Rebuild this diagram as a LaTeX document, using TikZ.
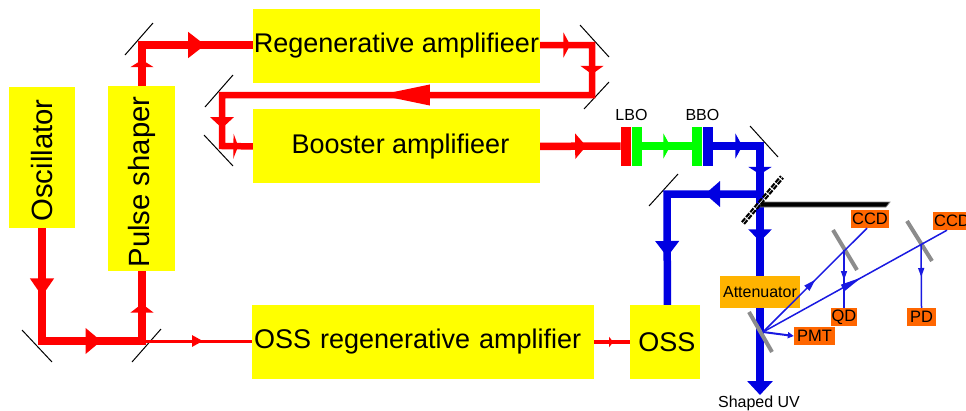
\documentclass[tikz,border=0pt]{standalone}
\usepackage{fontspec}
\setmainfont{Liberation Sans}
\usetikzlibrary{arrows.meta,positioning,calc,decorations.markings}
\definecolor{boxyellow}{RGB}{255,255,0}
\definecolor{beamblue}{RGB}{0,0,225}
\definecolor{thinblue}{RGB}{25,25,225}
\definecolor{attorange}{RGB}{255,179,0}
\definecolor{detorange}{RGB}{255,102,0}

\begin{document}
\begin{tikzpicture}[
    x=1pt, y=-1pt,
    block/.style={rectangle, fill=boxyellow, inner sep=0pt, font=\fontsize{27}{27}\selectfont},
    upblock/.style={block, rotate=90, font=\fontsize{29.3}{29.3}\selectfont},
    detector/.style={rectangle, fill=detorange, inner sep=0pt, minimum height=18pt, font=\fontsize{16.5}{16.5}\selectfont},
    caption/.style={inner sep=0pt, font=\fontsize{16}{16}\selectfont},
    crystal/.style={rectangle, inner sep=0pt, minimum width=10.5pt, minimum height=39pt},
    beam/.style={draw, line width=#1, line join=miter},
    beam/.default=7.5pt,
    mirror/.style={draw, black, line width=1pt},
    plate/.style={draw, gray!90, line width=4pt},
    tipat/.style n args={3}{postaction={decorate, decoration={markings, mark=at position #1 with {\arrow{Triangle[length=#2, width=#3]}}}}}
]
    \useasboundingbox (0,0) rectangle (966,410);

    \coordinate (foldA) at (42,341);
    \coordinate (foldB) at (142,341);
    \coordinate (foldC) at (142,45);
    \coordinate (foldD) at (592,45);
    \coordinate (foldE) at (592,95);
    \coordinate (foldF) at (222,95);
    \coordinate (foldG) at (222,146);
    \coordinate (foldH) at (760,146);
    \coordinate (split) at (760,194);
    \coordinate (foldI) at (667,194);
    \coordinate (uvend) at (760,395);
    \coordinate (pickoff) at (763,332);
    \coordinate (tapA) at (844,250);
    \coordinate (tapB) at (921,244);

    \draw [mirror] (22,330) -- (52,362);
    \draw [mirror] (161,329) -- (132,362);
    \draw [mirror] (153,23) -- (125,55);
    \draw [mirror] (233,75) -- (205,107);
    \draw [mirror] (204,135) -- (233,166);
    \draw [mirror] (580,25) -- (609,57);
    \draw [mirror] (609,82) -- (584,109);
    \draw [mirror] (750,126) -- (778,157);
    \draw [mirror] (678,174) -- (649,206);

    \node [upblock, minimum width=141pt, minimum height=66pt] (osc) at (42,157.5) {Oscillator\hspace*{6pt}};
    \node [upblock, minimum width=185pt, minimum height=67pt] (shaper) at (141.5,178.5) {Pulse shaper\hspace*{7pt}};
    \node [block, minimum width=287pt, minimum height=74pt] (regen) at (396.5,46) {Regenerative amplifieer};
    \node [block, minimum width=287pt, minimum height=74pt, below=26pt of regen] (booster) {\hspace*{8pt}Booster amplifieer};
    \node [block, minimum width=342pt, minimum height=74pt, text width=338pt] (ossregen) at (423,342) {OSS regenerative amplifier};
    \node [block, minimum width=70pt, minimum height=74pt, right=36pt of ossregen] (oss) {\hspace*{3pt}OSS};

    \node [crystal, fill=red] (lboa) at (626,146) {};
    \node [crystal, fill=green, right=0pt of lboa] (lbob) {};
    \node [crystal, fill=green] (bboa) at (697,146) {};
    \node [crystal, fill=beamblue, right=0pt of bboa] (bbob) {};
    \node [caption, above=5pt of lboa.north east] (lbo) {LBO};
    \node [caption, above=5pt of bboa.north east] (bbo) {BBO};

    \path [beam, color=red, tipat={68pt}{17.8pt}{23pt}, tipat={172pt}{15.6pt}{25pt}, tipat={250pt}{8.9pt}{23pt}]
        (osc.west) -- (foldA) -- (foldB) -- (foldB |- shaper.west);
    \path [beam=3pt, color=red, tipat={61pt}{11pt}{11pt}] (foldB) -- (foldB -| ossregen.west);
    \path [beam, color=red, tipat={26pt}{7.4pt}{23pt}, tipat={104pt}{17pt}{25pt}]
        (foldC |- shaper.east) -- (foldC) -- (foldC -| regen.west);
    \path [beam=6.5pt, color=red, tipat={30pt}{6.8pt}{25pt}, tipat={81pt}{8.4pt}{23pt}, tipat={317pt}{53pt}{19pt}, tipat={505pt}{11pt}{23pt}, tipat={539pt}{4.8pt}{25pt}]
        (foldD -| regen.east) -- (foldD) -- (foldE) -- (foldF) -- (foldG) -- (booster.west);
    \path [beam, color=red, tipat={46pt}{11pt}{25pt}] (booster.east) -- (lboa.west);
    \path [beam, color=green, tipat={28pt}{7pt}{25pt}] (lbob.east) -- (bboa.west);
    \path [beam, color=beamblue, tipat={29pt}{7pt}{25pt}, tipat={75pt}{7.4pt}{23pt}, tipat={142pt}{12pt}{23pt}, -{Triangle[length=14pt, width=25pt]}]
        (bbob.east) -- (foldH) -- (uvend);
    \path [beam, color=beamblue, tipat={55pt}{15pt}{25pt}, tipat={156pt}{16pt}{23pt}]
        (split) -- (foldI) -- ([xshift=2pt]oss.north);
    \path [beam=4pt, color=red, tipat={19pt}{4pt}{10pt}] (ossregen.east) -- (oss.west);

    \filldraw [black, draw=gray, line width=.7pt] (760,202) -- (890,202) -- (886,207) -- (760,207) -- cycle;
    \draw [black, line width=5pt, dash pattern=on 5pt off 1.5pt] (743,223) -- (782,177);
    \draw [white, line width=.5pt] (743,223) -- (782,177);

    \node [rectangle, fill=attorange, inner sep=0pt, minimum width=80pt, minimum height=32pt, font=\fontsize{16}{16}\selectfont] (atten) at (760,292) {Attenuator};
    \node [detector, minimum width=38pt] (ccda) at (870,219) {CCD};
    \node [detector, minimum width=38pt] (ccdb) at (952,221) {CCD};
    \node [detector, minimum width=26pt] (qd) at (844,317) {QD};
    \node [detector, minimum width=29pt] (pd) at (921.5,317) {PD};
    \node [detector, minimum width=41pt] (pmt) at (814.5,336) {PMT};
    \node [caption, anchor=base] (uv) at (759,407) {Shaped UV};

    \draw [plate] (749,312) -- (772,352);
    \draw [plate] (833,230) -- (857,270);
    \draw [plate] (907,221) -- (932,261);

    \path [beam=1.5pt, color=thinblue, tipat={74pt}{12pt}{7pt}] (pickoff) -- ([xshift=-3pt]ccda.south);
    \path [beam=1.5pt, color=thinblue, tipat={113pt}{22pt}{7pt}] (pickoff) -- ([xshift=-5pt]ccdb.south);
    \path [beam=1.5pt, color=thinblue, tipat={30pt}{9pt}{6pt}] (tapA) -- (qd.north);
    \path [beam=1.5pt, color=thinblue, tipat={33pt}{9pt}{6pt}] (tapB) -- (pd.north);
    \path [beam=2pt, color=thinblue, -{Triangle[length=6pt, width=6pt]}] (pickoff) -- (pmt.west);
\end{tikzpicture}
\end{document}
